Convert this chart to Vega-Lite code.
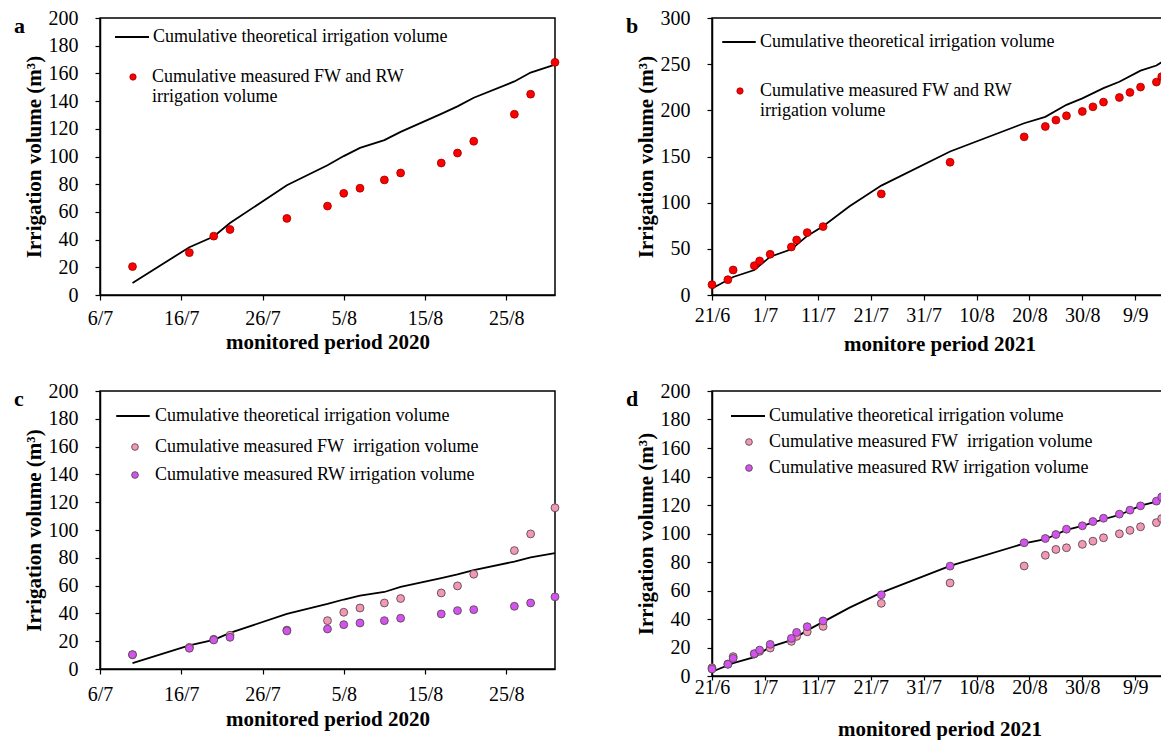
{
  "$schema": "https://vega.github.io/schema/vega-lite/v6.json",
  "background": "white",
  "padding": {"left": 13, "top": 7, "right": 0, "bottom": 0},
  "columns": 2,
  "spacing": {"row": 25, "column": 63},
  "resolve": {"scale": {"fill": "independent", "stroke": "independent"}, "legend": {"fill": "independent", "stroke": "independent"}},
  "datasets": {
    "aLine": [
      {"date": "2020-07-10", "v": 8.7, "s": "T"}, {"date": "2020-07-17", "v": 34.5, "s": "T"}, {"date": "2020-07-20", "v": 42.2, "s": "T"},
      {"date": "2020-07-22", "v": 52, "s": "T"}, {"date": "2020-07-29", "v": 79.2, "s": "T"}, {"date": "2020-08-03", "v": 93.7, "s": "T"},
      {"date": "2020-08-05", "v": 100.3, "s": "T"}, {"date": "2020-08-07", "v": 106.2, "s": "T"}, {"date": "2020-08-10", "v": 111.8, "s": "T"},
      {"date": "2020-08-12", "v": 117.8, "s": "T"}, {"date": "2020-08-17", "v": 130.8, "s": "T"}, {"date": "2020-08-19", "v": 136.2, "s": "T"},
      {"date": "2020-08-21", "v": 142.4, "s": "T"}, {"date": "2020-08-26", "v": 154.2, "s": "T"}, {"date": "2020-08-28", "v": 160.6, "s": "T"},
      {"date": "2020-08-31", "v": 166.4, "s": "T"}
    ],
    "aPts": [
      {"date": "2020-07-10", "v": 20.5, "s": "M"}, {"date": "2020-07-17", "v": 30.6, "s": "M"}, {"date": "2020-07-20", "v": 42.5, "s": "M"},
      {"date": "2020-07-22", "v": 47.3, "s": "M"}, {"date": "2020-07-29", "v": 55.3, "s": "M"}, {"date": "2020-08-03", "v": 64.2, "s": "M"},
      {"date": "2020-08-05", "v": 73.4, "s": "M"}, {"date": "2020-08-07", "v": 77.1, "s": "M"}, {"date": "2020-08-10", "v": 83.1, "s": "M"},
      {"date": "2020-08-12", "v": 88.1, "s": "M"}, {"date": "2020-08-17", "v": 95.3, "s": "M"}, {"date": "2020-08-19", "v": 102.5, "s": "M"},
      {"date": "2020-08-21", "v": 111, "s": "M"}, {"date": "2020-08-26", "v": 130.5, "s": "M"}, {"date": "2020-08-28", "v": 145, "s": "M"},
      {"date": "2020-08-31", "v": 168, "s": "M"}
    ],
    "bLine": [
      {"date": "2021-06-21", "v": 7, "s": "T"}, {"date": "2021-06-25", "v": 19.5, "s": "T"}, {"date": "2021-06-29", "v": 27, "s": "T"},
      {"date": "2021-07-02", "v": 41.5, "s": "T"}, {"date": "2021-07-06", "v": 49.5, "s": "T"}, {"date": "2021-07-09", "v": 64, "s": "T"},
      {"date": "2021-07-12", "v": 74.5, "s": "T"}, {"date": "2021-07-17", "v": 96, "s": "T"}, {"date": "2021-07-23", "v": 118.5, "s": "T"},
      {"date": "2021-08-05", "v": 155.4, "s": "T"}, {"date": "2021-08-19", "v": 186, "s": "T"}, {"date": "2021-08-23", "v": 193, "s": "T"},
      {"date": "2021-08-27", "v": 206, "s": "T"}, {"date": "2021-08-30", "v": 213, "s": "T"}, {"date": "2021-09-03", "v": 224, "s": "T"},
      {"date": "2021-09-06", "v": 231, "s": "T"}, {"date": "2021-09-10", "v": 243, "s": "T"}, {"date": "2021-09-13", "v": 248.5, "s": "T"},
      {"date": "2021-09-15", "v": 256, "s": "T"}
    ],
    "bPts": [
      {"date": "2021-06-21", "v": 11.2, "s": "M"}, {"date": "2021-06-24", "v": 16.6, "s": "M"}, {"date": "2021-06-25", "v": 27.1, "s": "M"},
      {"date": "2021-06-29", "v": 31.8, "s": "M"}, {"date": "2021-06-30", "v": 36.9, "s": "M"}, {"date": "2021-07-02", "v": 44.1, "s": "M"},
      {"date": "2021-07-06", "v": 52, "s": "M"}, {"date": "2021-07-07", "v": 59.6, "s": "M"}, {"date": "2021-07-09", "v": 67.6, "s": "M"},
      {"date": "2021-07-12", "v": 74.1, "s": "M"}, {"date": "2021-07-23", "v": 109.5, "s": "M"}, {"date": "2021-08-05", "v": 143.8, "s": "M"},
      {"date": "2021-08-19", "v": 171.3, "s": "M"}, {"date": "2021-08-23", "v": 182.5, "s": "M"}, {"date": "2021-08-25", "v": 189.4, "s": "M"},
      {"date": "2021-08-27", "v": 194.1, "s": "M"}, {"date": "2021-08-30", "v": 198.8, "s": "M"}, {"date": "2021-09-01", "v": 203.8, "s": "M"},
      {"date": "2021-09-03", "v": 208.9, "s": "M"}, {"date": "2021-09-06", "v": 213.9, "s": "M"}, {"date": "2021-09-08", "v": 219.4, "s": "M"},
      {"date": "2021-09-10", "v": 225.2, "s": "M"}, {"date": "2021-09-13", "v": 230.6, "s": "M"}, {"date": "2021-09-14", "v": 236.5, "s": "M"}
    ],
    "cLine": [
      {"date": "2020-07-10", "v": 4.2, "s": "T"}, {"date": "2020-07-17", "v": 17, "s": "T"}, {"date": "2020-07-20", "v": 21, "s": "T"},
      {"date": "2020-07-22", "v": 26, "s": "T"}, {"date": "2020-07-29", "v": 39.6, "s": "T"}, {"date": "2020-08-03", "v": 46.8, "s": "T"},
      {"date": "2020-08-05", "v": 50, "s": "T"}, {"date": "2020-08-07", "v": 52.8, "s": "T"}, {"date": "2020-08-10", "v": 55.4, "s": "T"},
      {"date": "2020-08-12", "v": 59, "s": "T"}, {"date": "2020-08-17", "v": 65.3, "s": "T"}, {"date": "2020-08-19", "v": 68, "s": "T"},
      {"date": "2020-08-21", "v": 71.2, "s": "T"}, {"date": "2020-08-26", "v": 77.3, "s": "T"}, {"date": "2020-08-28", "v": 80.3, "s": "T"},
      {"date": "2020-08-31", "v": 83.3, "s": "T"}
    ],
    "cPts": [
      {"date": "2020-07-10", "v": 10.3, "s": "FW"}, {"date": "2020-07-17", "v": 15.6, "s": "FW"}, {"date": "2020-07-20", "v": 21.4, "s": "FW"},
      {"date": "2020-07-22", "v": 24.3, "s": "FW"}, {"date": "2020-07-29", "v": 28, "s": "FW"}, {"date": "2020-08-03", "v": 34.8, "s": "FW"},
      {"date": "2020-08-05", "v": 40.8, "s": "FW"}, {"date": "2020-08-07", "v": 43.9, "s": "FW"}, {"date": "2020-08-10", "v": 47.5, "s": "FW"},
      {"date": "2020-08-12", "v": 50.7, "s": "FW"}, {"date": "2020-08-17", "v": 54.7, "s": "FW"}, {"date": "2020-08-19", "v": 59.8, "s": "FW"},
      {"date": "2020-08-21", "v": 68.2, "s": "FW"}, {"date": "2020-08-26", "v": 85.2, "s": "FW"}, {"date": "2020-08-28", "v": 97.2, "s": "FW"},
      {"date": "2020-08-31", "v": 116, "s": "FW"},
      {"date": "2020-07-10", "v": 10.3, "s": "RW"}, {"date": "2020-07-17", "v": 14.9, "s": "RW"}, {"date": "2020-07-20", "v": 20.9, "s": "RW"},
      {"date": "2020-07-22", "v": 22.8, "s": "RW"}, {"date": "2020-07-29", "v": 27.4, "s": "RW"}, {"date": "2020-08-03", "v": 28.8, "s": "RW"},
      {"date": "2020-08-05", "v": 31.9, "s": "RW"}, {"date": "2020-08-07", "v": 33.1, "s": "RW"}, {"date": "2020-08-10", "v": 34.8, "s": "RW"},
      {"date": "2020-08-12", "v": 36.5, "s": "RW"}, {"date": "2020-08-17", "v": 39.6, "s": "RW"}, {"date": "2020-08-19", "v": 42, "s": "RW"},
      {"date": "2020-08-21", "v": 42.7, "s": "RW"}, {"date": "2020-08-26", "v": 45.1, "s": "RW"}, {"date": "2020-08-28", "v": 47.5, "s": "RW"},
      {"date": "2020-08-31", "v": 51.9, "s": "RW"}
    ],
    "dLine": [
      {"date": "2021-06-21", "v": 3, "s": "T"}, {"date": "2021-06-25", "v": 9, "s": "T"}, {"date": "2021-06-29", "v": 13.2, "s": "T"},
      {"date": "2021-07-02", "v": 20.5, "s": "T"}, {"date": "2021-07-06", "v": 25.2, "s": "T"}, {"date": "2021-07-09", "v": 32, "s": "T"},
      {"date": "2021-07-12", "v": 38, "s": "T"}, {"date": "2021-07-17", "v": 48, "s": "T"}, {"date": "2021-07-23", "v": 58.5, "s": "T"},
      {"date": "2021-08-05", "v": 77.3, "s": "T"}, {"date": "2021-08-19", "v": 93, "s": "T"}, {"date": "2021-08-23", "v": 96, "s": "T"},
      {"date": "2021-08-27", "v": 102.5, "s": "T"}, {"date": "2021-08-30", "v": 105.3, "s": "T"}, {"date": "2021-09-03", "v": 110, "s": "T"},
      {"date": "2021-09-06", "v": 113, "s": "T"}, {"date": "2021-09-10", "v": 119.5, "s": "T"}, {"date": "2021-09-13", "v": 122.3, "s": "T"},
      {"date": "2021-09-15", "v": 127, "s": "T"}
    ],
    "dPts": [
      {"date": "2021-06-21", "v": 5.8, "s": "FW"}, {"date": "2021-06-24", "v": 8.4, "s": "FW"}, {"date": "2021-06-25", "v": 13.6, "s": "FW"},
      {"date": "2021-06-29", "v": 15.4, "s": "FW"}, {"date": "2021-06-30", "v": 17.3, "s": "FW"}, {"date": "2021-07-02", "v": 19.6, "s": "FW"},
      {"date": "2021-07-06", "v": 24.3, "s": "FW"}, {"date": "2021-07-07", "v": 27.8, "s": "FW"}, {"date": "2021-07-09", "v": 31, "s": "FW"},
      {"date": "2021-07-12", "v": 34.8, "s": "FW"}, {"date": "2021-07-23", "v": 51, "s": "FW"}, {"date": "2021-08-05", "v": 65.3, "s": "FW"},
      {"date": "2021-08-19", "v": 77.2, "s": "FW"}, {"date": "2021-08-23", "v": 84.7, "s": "FW"}, {"date": "2021-08-25", "v": 88.8, "s": "FW"},
      {"date": "2021-08-27", "v": 90, "s": "FW"}, {"date": "2021-08-30", "v": 92.4, "s": "FW"}, {"date": "2021-09-01", "v": 94.6, "s": "FW"},
      {"date": "2021-09-03", "v": 97, "s": "FW"}, {"date": "2021-09-06", "v": 99.8, "s": "FW"}, {"date": "2021-09-08", "v": 102.2, "s": "FW"},
      {"date": "2021-09-10", "v": 104.7, "s": "FW"}, {"date": "2021-09-13", "v": 107.6, "s": "FW"}, {"date": "2021-09-14", "v": 110.5, "s": "FW"},
      {"date": "2021-06-21", "v": 4.9, "s": "RW"}, {"date": "2021-06-24", "v": 8.2, "s": "RW"}, {"date": "2021-06-25", "v": 12.4, "s": "RW"},
      {"date": "2021-06-29", "v": 15.7, "s": "RW"}, {"date": "2021-06-30", "v": 18.2, "s": "RW"}, {"date": "2021-07-02", "v": 22.2, "s": "RW"},
      {"date": "2021-07-06", "v": 26.4, "s": "RW"}, {"date": "2021-07-07", "v": 30.6, "s": "RW"}, {"date": "2021-07-09", "v": 34.6, "s": "RW"},
      {"date": "2021-07-12", "v": 38.6, "s": "RW"}, {"date": "2021-07-23", "v": 57, "s": "RW"}, {"date": "2021-08-05", "v": 77.1, "s": "RW"},
      {"date": "2021-08-19", "v": 93.5, "s": "RW"}, {"date": "2021-08-23", "v": 96.5, "s": "RW"}, {"date": "2021-08-25", "v": 99.3, "s": "RW"},
      {"date": "2021-08-27", "v": 103, "s": "RW"}, {"date": "2021-08-30", "v": 105.4, "s": "RW"}, {"date": "2021-09-01", "v": 108.4, "s": "RW"},
      {"date": "2021-09-03", "v": 110.7, "s": "RW"}, {"date": "2021-09-06", "v": 113.6, "s": "RW"}, {"date": "2021-09-08", "v": 116.4, "s": "RW"},
      {"date": "2021-09-10", "v": 119.4, "s": "RW"}, {"date": "2021-09-13", "v": 122.7, "s": "RW"}, {"date": "2021-09-14", "v": 125.7, "s": "RW"}
    ]
  },
  "concat": [
    {
      "title": {"text": "a", "dx": -86, "dy": 34},
      "width": 455, "height": 277,
      "encoding": {
        "x": {"field": "date", "type": "temporal",
          "scale": {"type": "utc", "domain": [{"year": 2020, "month": 7, "date": 6, "utc": true}, {"year": 2020, "month": 8, "date": 31, "utc": true}]},
          "axis": {"title": "monitored period 2020", "format": "%-d/%-m", "labelFont": "Liberation Serif", "labelPadding": 8, "titlePadding": 3,
            "values": [{"year": 2020, "month": 7, "date": 6, "utc": true}, {"year": 2020, "month": 7, "date": 16, "utc": true}, {"year": 2020, "month": 7, "date": 26, "utc": true}, {"year": 2020, "month": 8, "date": 5, "utc": true}, {"year": 2020, "month": 8, "date": 15, "utc": true}, {"year": 2020, "month": 8, "date": 25, "utc": true}]}},
        "y": {"field": "v", "type": "quantitative", "scale": {"domain": [0, 200], "nice": false},
          "axis": {"title": "Irrigation volume (m³)", "labelFont": "Liberation Serif", "values": [0, 20, 40, 60, 80, 100, 120, 140, 160, 180, 200], "labelPadding": 17, "titlePadding": 4}}
      },
      "layer": [
        {
          "data": {"name": "aLine"},
          "mark": {"type": "line", "strokeWidth": 1.8},
          "encoding": {
            "stroke": {"field": "s", "type": "nominal", "scale": {"range": ["black"]},
              "legend": {"orient": "none", "legendX": 14, "legendY": 1, "title": null, "symbolType": "stroke", "symbolSize": 1156, "symbolStrokeWidth": 1.8, "labelOffset": 3,
                "labelExpr": "'Cumulative theoretical irrigation volume'"}}
          }
        },
        {
          "data": {"name": "aPts"},
          "mark": {"type": "point", "filled": true, "size": 62, "stroke": "#990000", "strokeWidth": 0.8, "opacity": 1},
          "encoding": {
            "fill": {"field": "s", "type": "nominal", "scale": {"range": ["#ff0000"]},
              "legend": {"orient": "none", "legendX": 24, "legendY": 50, "title": null, "symbolType": "circle", "symbolSize": 40, "symbolStrokeColor": "#990000", "symbolStrokeWidth": 0.8, "symbolOpacity": 1, "labelOffset": 10,
                "labelExpr": "['Cumulative measured FW and RW', 'irrigation volume']"}}
          }
        }
      ]
    },
    {
      "title": {"text": "b", "dx": -86, "dy": 34},
      "width": 455, "height": 277,
      "encoding": {
        "x": {"field": "date", "type": "temporal",
          "scale": {"type": "utc", "domain": [{"year": 2021, "month": 6, "date": 21, "utc": true}, {"year": 2021, "month": 9, "date": 15, "utc": true}]},
          "axis": {"title": "monitore period 2021", "format": "%-d/%-m", "labelFont": "Liberation Serif", "labelPadding": 5, "titlePadding": 8,
            "values": [{"year": 2021, "month": 6, "date": 21, "utc": true}, {"year": 2021, "month": 7, "date": 1, "utc": true}, {"year": 2021, "month": 7, "date": 11, "utc": true}, {"year": 2021, "month": 7, "date": 21, "utc": true}, {"year": 2021, "month": 7, "date": 31, "utc": true}, {"year": 2021, "month": 8, "date": 10, "utc": true}, {"year": 2021, "month": 8, "date": 20, "utc": true}, {"year": 2021, "month": 8, "date": 30, "utc": true}, {"year": 2021, "month": 9, "date": 9, "utc": true}]}},
        "y": {"field": "v", "type": "quantitative", "scale": {"domain": [0, 300], "nice": false},
          "axis": {"title": "Irrigation volume (m³)", "labelFont": "Liberation Serif", "values": [0, 50, 100, 150, 200, 250, 300], "labelPadding": 17, "titlePadding": 4}}
      },
      "layer": [
        {
          "data": {"name": "bLine"},
          "mark": {"type": "line", "strokeWidth": 1.8},
          "encoding": {
            "stroke": {"field": "s", "type": "nominal", "scale": {"range": ["black"]},
              "legend": {"orient": "none", "legendX": 9, "legendY": 6, "title": null, "symbolType": "stroke", "symbolSize": 1122, "symbolStrokeWidth": 1.8, "labelOffset": 3,
                "labelExpr": "'Cumulative theoretical irrigation volume'"}}
          }
        },
        {
          "data": {"name": "bPts"},
          "mark": {"type": "point", "filled": true, "size": 62, "stroke": "#990000", "strokeWidth": 0.8, "opacity": 1},
          "encoding": {
            "fill": {"field": "s", "type": "nominal", "scale": {"range": ["#ff0000"]},
              "legend": {"orient": "none", "legendX": 19, "legendY": 64, "title": null, "symbolType": "circle", "symbolSize": 40, "symbolStrokeColor": "#990000", "symbolStrokeWidth": 0.8, "symbolOpacity": 1, "labelOffset": 11,
                "labelExpr": "['Cumulative measured FW and RW', 'irrigation volume']"}}
          }
        }
      ]
    },
    {
      "title": {"text": "c", "dx": -86, "dy": 34},
      "width": 455, "height": 278,
      "encoding": {
        "x": {"field": "date", "type": "temporal",
          "scale": {"type": "utc", "domain": [{"year": 2020, "month": 7, "date": 6, "utc": true}, {"year": 2020, "month": 8, "date": 31, "utc": true}]},
          "axis": {"title": "monitored period 2020", "format": "%-d/%-m", "labelFont": "Liberation Serif", "labelPadding": 10, "titlePadding": 4,
            "values": [{"year": 2020, "month": 7, "date": 6, "utc": true}, {"year": 2020, "month": 7, "date": 16, "utc": true}, {"year": 2020, "month": 7, "date": 26, "utc": true}, {"year": 2020, "month": 8, "date": 5, "utc": true}, {"year": 2020, "month": 8, "date": 15, "utc": true}, {"year": 2020, "month": 8, "date": 25, "utc": true}]}},
        "y": {"field": "v", "type": "quantitative", "scale": {"domain": [0, 200], "nice": false},
          "axis": {"title": "Irrigation volume (m³)", "labelFont": "Liberation Serif", "values": [0, 20, 40, 60, 80, 100, 120, 140, 160, 180, 200], "labelPadding": 17, "titlePadding": 4}}
      },
      "layer": [
        {
          "data": {"name": "cLine"},
          "mark": {"type": "line", "strokeWidth": 1.8},
          "encoding": {
            "stroke": {"field": "s", "type": "nominal", "scale": {"range": ["black"]},
              "legend": {"orient": "none", "legendX": 15, "legendY": 7, "title": null, "symbolType": "stroke", "symbolSize": 1122, "symbolStrokeWidth": 1.8, "labelOffset": 4,
                "labelExpr": "'Cumulative theoretical irrigation volume'"}}
          }
        },
        {
          "data": {"name": "cPts"},
          "mark": {"type": "point", "filled": true, "size": 62, "stroke": "#5a4a55", "strokeWidth": 0.9, "opacity": 1},
          "encoding": {
            "fill": {"field": "s", "type": "nominal", "scale": {"domain": ["FW", "RW"], "range": ["#f398b2", "#d453ef"]},
              "legend": {"orient": "none", "legendX": 26, "legendY": 47, "title": null, "symbolType": "circle", "symbolSize": 45, "symbolStrokeColor": "#5a4a55", "symbolStrokeWidth": 0.9, "symbolOpacity": 1, "labelOffset": 11, "rowPadding": 10,
                "labelExpr": "datum.label == 'FW' ? 'Cumulative measured FW\u00a0 irrigation volume' : 'Cumulative measured RW irrigation volume'"}}
          }
        }
      ]
    },
    {
      "title": {"text": "d", "dx": -86, "dy": 34},
      "width": 455, "height": 285,
      "encoding": {
        "x": {"field": "date", "type": "temporal",
          "scale": {"type": "utc", "domain": [{"year": 2021, "month": 6, "date": 21, "utc": true}, {"year": 2021, "month": 9, "date": 15, "utc": true}]},
          "axis": {"title": "monitored period 2021", "format": "%-d/%-m", "labelFont": "Liberation Serif", "labelPadding": -3, "tickSize": 4, "titlePadding": 21,
            "values": [{"year": 2021, "month": 6, "date": 21, "utc": true}, {"year": 2021, "month": 7, "date": 1, "utc": true}, {"year": 2021, "month": 7, "date": 11, "utc": true}, {"year": 2021, "month": 7, "date": 21, "utc": true}, {"year": 2021, "month": 7, "date": 31, "utc": true}, {"year": 2021, "month": 8, "date": 10, "utc": true}, {"year": 2021, "month": 8, "date": 20, "utc": true}, {"year": 2021, "month": 8, "date": 30, "utc": true}, {"year": 2021, "month": 9, "date": 9, "utc": true}]}},
        "y": {"field": "v", "type": "quantitative", "scale": {"domain": [0, 200], "nice": false},
          "axis": {"title": "Irrigation volume (m³)", "labelFont": "Liberation Serif", "values": [0, 20, 40, 60, 80, 100, 120, 140, 160, 180, 200], "labelPadding": 17, "titlePadding": 4}}
      },
      "layer": [
        {
          "data": {"name": "dLine"},
          "mark": {"type": "line", "strokeWidth": 1.8},
          "encoding": {
            "stroke": {"field": "s", "type": "nominal", "scale": {"range": ["black"]},
              "legend": {"orient": "none", "legendX": 18, "legendY": 7, "title": null, "symbolType": "stroke", "symbolSize": 1156, "symbolStrokeWidth": 1.8, "labelOffset": 3,
                "labelExpr": "'Cumulative theoretical irrigation volume'"}}
          }
        },
        {
          "data": {"name": "dPts"},
          "mark": {"type": "point", "filled": true, "size": 62, "stroke": "#5a4a55", "strokeWidth": 0.9, "opacity": 1},
          "encoding": {
            "fill": {"field": "s", "type": "nominal", "scale": {"domain": ["FW", "RW"], "range": ["#f398b2", "#d453ef"]},
              "legend": {"orient": "none", "legendX": 28, "legendY": 42, "title": null, "symbolType": "circle", "symbolSize": 45, "symbolStrokeColor": "#5a4a55", "symbolStrokeWidth": 0.9, "symbolOpacity": 1, "labelOffset": 11, "rowPadding": 8,
                "labelExpr": "datum.label == 'FW' ? 'Cumulative measured FW\u00a0 irrigation volume' : 'Cumulative measured RW irrigation volume'"}}
          }
        }
      ]
    }
  ],
  "config": {
    "font": "Liberation Serif",
    "view": {"stroke": "black", "strokeWidth": 1.5},
    "axis": {"labelFont": "Liberation Serif", "labelFontSize": 20, "labelColor": "black", "titleFont": "Liberation Serif", "titleFontSize": 21, "titleFontWeight": "bold", "titleColor": "black", "domainColor": "black", "domainWidth": 1.5, "tickColor": "black", "tickWidth": 1.2, "tickSize": 5, "grid": false, "labelFlush": false, "labelOverlap": false},
    "legend": {"labelFont": "Liberation Serif", "labelFontSize": 18, "labelColor": "black", "labelLimit": 0, "padding": 0},
    "title": {"font": "Liberation Serif", "fontSize": 22, "fontWeight": "bold", "color": "black", "anchor": "start", "frame": "group", "baseline": "alphabetic", "offset": 0}
  }
}
